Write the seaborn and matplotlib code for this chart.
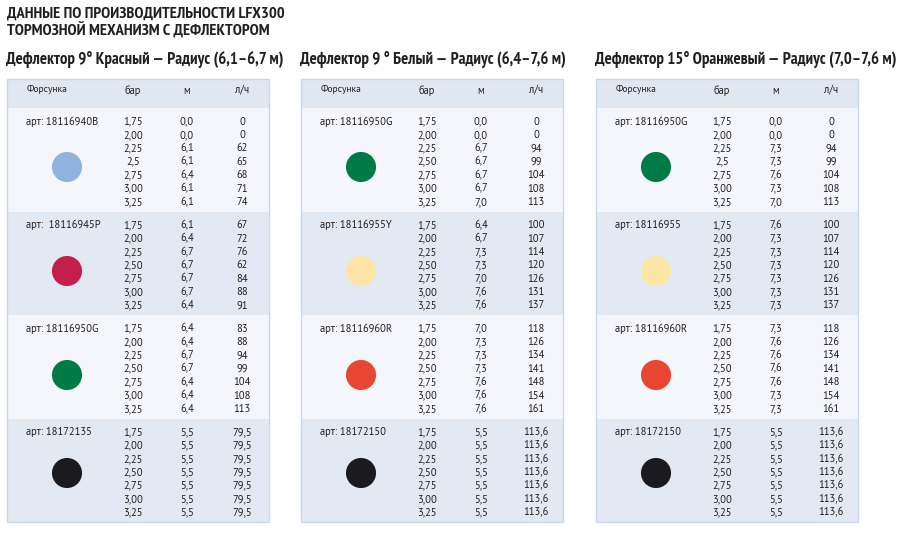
import matplotlib
matplotlib.use("Agg")
import matplotlib.pyplot as plt
import seaborn as sns
import pandas as pd
from matplotlib.patches import Rectangle

sns.set_theme(style="white")
plt.rcParams['font.family'] = ['PT Sans', 'Noto Sans', 'DejaVu Sans']

# ---------------- data ----------------
main_title = ["ДАННЫЕ ПО ПРОИЗВОДИТЕЛЬНОСТИ LFX300", "ТОРМОЗНОЙ МЕХАНИЗМ С ДЕФЛЕКТОРОМ"]
table_titles = ["Дефлектор 9° Красный — Радиус (6,1–6,7 м)",
                "Дефлектор 9 ° Белый — Радиус (6,4–7,6 м)",
                "Дефлектор 15° Оранжевый — Радиус (7,0–7,6 м)"]
col_headers = ["Форсунка", "бар", "м", "л/ч"]

p_a = ["1,75", "2,00", "2,25", "2,5", "2,75", "3,00", "3,25"]
p_b = ["1,75", "2,00", "2,25", "2,50", "2,75", "3,00", "3,25"]

# table 1
t1_codes = ["арт: 18116940B", "арт:  18116945P", "арт: 18116950G", "арт: 18172135"]
t1_colors = ["#8fb3dd", "#c41f4b", "#007a47", "#1b1a1f"]
t1_pressure = [p_a, p_b, p_b, p_b]
t1_m = [["0,0", "0,0", "6,1", "6,1", "6,4", "6,1", "6,1"],
        ["6,1", "6,4", "6,7", "6,7", "6,7", "6,7", "6,4"],
        ["6,4", "6,4", "6,7", "6,7", "6,4", "6,4", "6,4"],
        ["5,5", "5,5", "5,5", "5,5", "5,5", "5,5", "5,5"]]
t1_flow = [["0", "0", "62", "65", "68", "71", "74"],
           ["67", "72", "76", "62", "84", "88", "91"],
           ["83", "88", "94", "99", "104", "108", "113"],
           ["79,5", "79,5", "79,5", "79,5", "79,5", "79,5", "79,5"]]

# table 2
t2_codes = ["арт: 18116950G", "арт: 18116955Y", "арт: 18116960R", "арт: 18172150"]
t2_colors = ["#007a47", "#fde5a6", "#e84632", "#1b1a1f"]
t2_pressure = [p_b, p_b, p_b, p_b]
t2_m = [["0,0", "0,0", "6,7", "6,7", "6,7", "6,7", "7,0"],
        ["6,4", "6,7", "7,3", "7,3", "7,0", "7,6", "7,6"],
        ["7,0", "7,3", "7,3", "7,3", "7,6", "7,6", "7,6"],
        ["5,5", "5,5", "5,5", "5,5", "5,5", "5,5", "5,5"]]
t2_flow = [["0", "0", "94", "99", "104", "108", "113"],
           ["100", "107", "114", "120", "126", "131", "137"],
           ["118", "126", "134", "141", "148", "154", "161"],
           ["113,6", "113,6", "113,6", "113,6", "113,6", "113,6", "113,6"]]

# table 3
t3_codes = ["арт: 18116950G", "арт: 18116955", "арт: 18116960R", "арт: 18172150"]
t3_colors = ["#007a47", "#fde5a6", "#e84632", "#1b1a1f"]
t3_pressure = [p_a, p_b, p_b, p_b]
t3_m = [["0,0", "0,0", "7,3", "7,3", "7,6", "7,3", "7,0"],
        ["7,6", "7,3", "7,3", "7,3", "7,3", "7,3", "7,3"],
        ["7,3", "7,6", "7,6", "7,6", "7,6", "7,3", "7,3"],
        ["5,5", "5,5", "5,5", "5,5", "5,5", "5,5", "5,5"]]
t3_flow = [["0", "0", "94", "99", "104", "108", "113"],
           ["100", "107", "114", "120", "126", "131", "137"],
           ["118", "126", "134", "141", "148", "154", "161"],
           ["113,6", "113,6", "113,6", "113,6", "113,6", "113,6", "113,6"]]

tables = [
    dict(codes=t1_codes, colors=t1_colors, pressure=t1_pressure, m=t1_m, flow=t1_flow),
    dict(codes=t2_codes, colors=t2_colors, pressure=t2_pressure, m=t2_m, flow=t2_flow),
    dict(codes=t3_codes, colors=t3_colors, pressure=t3_pressure, m=t3_m, flow=t3_flow),
]

# ---------------- layout ----------------
W, H = 915, 543
fig = plt.figure(figsize=(W / 100, H / 100), dpi=100)
ax = fig.add_axes([0, 0, 1, 1])
ax.set_xlim(0, W)
ax.set_ylim(H, 0)
ax.axis("off")

title_font = ['PT Sans Narrow', 'Liberation Sans', 'DejaVu Sans']
body_font = ['PT Sans', 'Noto Sans', 'DejaVu Sans']
TXT = "#231f20"

ax.text(7, 18, main_title[0], fontsize=11.8, fontweight="bold", family=title_font,
        color=TXT, va="baseline", ha="left")
ax.text(7, 36, main_title[1], fontsize=11.8, fontweight="bold", family=title_font,
        color=TXT, va="baseline", ha="left")

table_left = [7, 301, 596]
table_w = 262
top = 79
header_bottom = 108
block_tops = [108, 211.5, 315, 418.5]
block_h = 103.5
bottom = 522
circle_y = [167, 271, 375, 473]

HEAD = "#e0e7f1"
LIGHT = "#f4f6fb"
BLUE = "#e3e9f3"
EDGE = "#c7d7ec"

circle_rows = []
for ti, (tl, tab) in enumerate(zip(table_left, tables)):
    ax.text(tl - 1, 64.5, table_titles[ti], fontsize=12.1, fontweight="bold",
            family=title_font, color=TXT, va="baseline", ha="left")
    # backgrounds
    ax.add_patch(Rectangle((tl, top), table_w, header_bottom - top, facecolor=HEAD,
                           edgecolor="none", zorder=1))
    for bi, bt in enumerate(block_tops):
        ax.add_patch(Rectangle((tl, bt), table_w, block_h,
                               facecolor=LIGHT if bi % 2 == 0 else BLUE,
                               edgecolor="none", zorder=1))
    ax.add_patch(Rectangle((tl, top), table_w, bottom - top, facecolor="none",
                           edgecolor=EDGE, linewidth=1.0, zorder=3))
    # headers
    ax.text(tl + 20, 92.5, col_headers[0], fontsize=6.8, family=body_font, color=TXT,
            va="baseline", ha="left", zorder=4)
    for hx, lab in zip([126, 180, 235], col_headers[1:]):
        ax.text(tl + hx, 93.5, lab, fontsize=7.6, family=body_font, color=TXT,
                va="baseline", ha="center", zorder=4)
    # data
    for bi, bt in enumerate(block_tops):
        y0 = bt + 13
        ax.text(tl + 19, y0 + 3.6, tab["codes"][bi], fontsize=7.6, family=body_font,
                color=TXT, va="baseline", ha="left", zorder=4)
        for li in range(7):
            y = y0 + li * 13.4 + 3.6
            ax.text(tl + 126, y, tab["pressure"][bi][li], fontsize=7.6, family=body_font,
                    color=TXT, va="baseline", ha="center", zorder=4)
            ax.text(tl + 180, y, tab["m"][bi][li], fontsize=7.6, family=body_font,
                    color=TXT, va="baseline", ha="center", zorder=4)
            ax.text(tl + 235, y, tab["flow"][bi][li], fontsize=7.6, family=body_font,
                    color=TXT, va="baseline", ha="center", zorder=4)
        circle_rows.append(dict(x=tl + 60, y=circle_y[bi], key=f"{ti}-{bi}",
                                color=tab["colors"][bi]))

cdf = pd.DataFrame(circle_rows)
palette = dict(zip(cdf["key"], cdf["color"]))
sns.scatterplot(data=cdf, x="x", y="y", hue="key", palette=palette, s=470,
                linewidth=0, legend=False, ax=ax, zorder=5)
ax.set_xlim(0, W)
ax.set_ylim(H, 0)
ax.axis("off")

fig.savefig("out.png", dpi=100, facecolor="white")
